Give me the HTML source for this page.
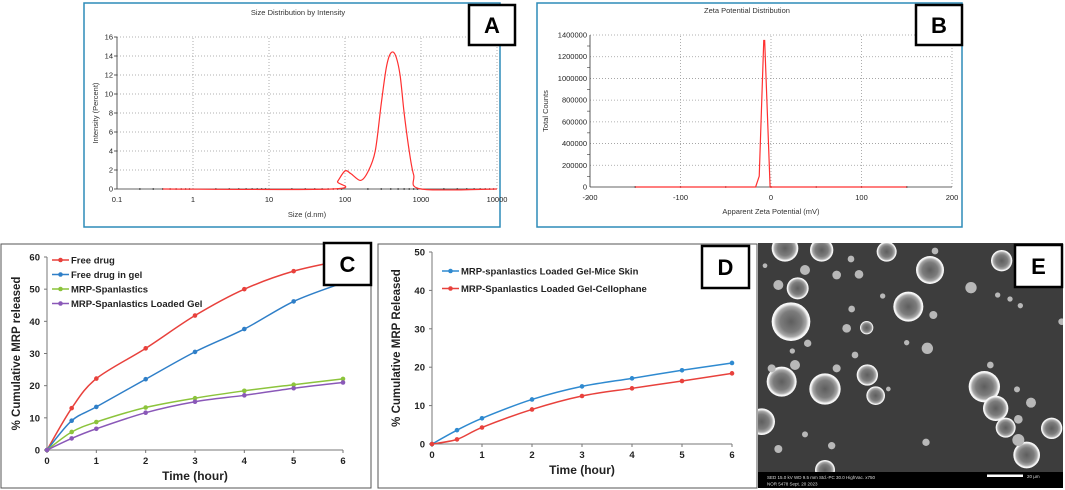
<!DOCTYPE html>
<html><head><meta charset="utf-8"><style>
html,body{margin:0;padding:0;background:#fff;}
svg{display:block;font-family:"Liberation Sans",Arial,sans-serif;}
</style></head><body>
<svg id="fig" width="1065" height="490" viewBox="0 0 1065 490" xmlns="http://www.w3.org/2000/svg">
<defs>
<radialGradient id="pg" cx="50%" cy="50%" r="50%">
<stop offset="0%" stop-color="#5e5e5e"/><stop offset="55%" stop-color="#7c7c7c"/><stop offset="78%" stop-color="#a8a8a8"/><stop offset="90%" stop-color="#f0f0f0"/><stop offset="100%" stop-color="#ffffff"/>
</radialGradient>
<clipPath id="clipE"><rect x="758" y="243" width="305" height="229"/></clipPath>
<clipPath id="clipC"><rect x="1" y="244" width="370" height="244"/></clipPath>
</defs>
<g id="pA"></g>
<g id="pB"></g>
<g id="pC"></g>
<g id="pD"></g>
<g id="pE"></g>
</svg>
<script>
// ---- Panel A data
const sizeX = [0.4, 68, 80, 100, 120, 160, 200, 250, 300, 350, 400, 460, 530, 600, 700, 800, 1000, 10000];
const sizeY = [0, 0, 0.8, 1.9, 1.6, 0.9, 1.8, 4, 9, 12.8, 14.3, 14.1, 12, 8, 4, 1.5, 0, 0];
const sizeTicksX = ["0.1", "1", "10", "100", "1000", "10000"];
const sizeTicksY = [0, 2, 4, 6, 8, 10, 12, 14, 16];
// ---- Panel B data
const zetaX = [-150, -17, -13, -8, -7, -1, 150];
const zetaY = [0, 0, 100000, 1350000, 1350000, 0, 0];
const zetaTicksX = [-200, -100, 0, 100, 200];
const zetaTicksY = [0, 200000, 400000, 600000, 800000, 1000000, 1200000, 1400000];
// ---- Panel C data
const timeC = [0, 0.5, 1, 2, 3, 4, 5, 6];
const freeDrug = [0, 13, 22.2, 31.6, 41.8, 50, 55.6, 59];
const freeDrugGel = [0, 9.1, 13.4, 22, 30.5, 37.6, 46.2, 52];
const spanlastics = [0, 5.6, 8.7, 13.2, 16.1, 18.4, 20.3, 22.1];
const spanGel = [0, 3.6, 6.6, 11.6, 15, 17, 19.2, 21];
const cTicksY = [0, 10, 20, 30, 40, 50, 60];
const tTicks = [0, 1, 2, 3, 4, 5, 6];
// ---- Panel D data
const timeD = [0, 0.5, 1, 2, 3, 4, 5, 6];
const miceSkin = [0, 3.6, 6.7, 11.6, 15, 17.1, 19.2, 21.1];
const cellophane = [0, 1.2, 4.3, 9, 12.5, 14.5, 16.4, 18.4];
const dTicksY = [0, 10, 20, 30, 40, 50];

const NS = "http://www.w3.org/2000/svg";
function mk(parent, tag, attrs, text) {
  const e = document.createElementNS(NS, tag);
  for (const k in attrs) e.setAttribute(k, attrs[k]);
  if (text !== undefined) e.textContent = text;
  parent.appendChild(e);
  return e;
}
function smooth(pts) {
  let d = "M" + pts[0][0] + "," + pts[0][1];
  for (let i = 0; i < pts.length - 1; i++) {
    const p0 = pts[i - 1] || pts[i], p1 = pts[i], p2 = pts[i + 1], p3 = pts[i + 2] || p2;
    const t = 0.16;
    d += " C" + (p1[0] + (p2[0] - p0[0]) * t) + "," + (p1[1] + (p2[1] - p0[1]) * t) + " " +
      (p2[0] - (p3[0] - p1[0]) * t) + "," + (p2[1] - (p3[1] - p1[1]) * t) + " " + p2[0] + "," + p2[1];
  }
  return d;
}
function labelBox(g, x, y, w, h, t) {
  const r = mk(g, "rect", {x: x, y: y, width: w, height: h, fill: "#fff", stroke: "#000", "stroke-width": 2.5});
  
  
  const tx = mk(g, "text", {x: x + w / 2, y: y + h / 2 + 8, "text-anchor": "middle", "font-size": 22, "font-weight": "bold"}, t);
  
  
}

// ================= Panel A
(function () {
  const g = document.getElementById("pA");
  const fr = mk(g, "rect", {x: 84, y: 3, width: 416, height: 224, fill: "#fff", stroke: "#2d8bb8", "stroke-width": 1.5});
  
  
  const x0 = 117, x1 = 497, y0 = 189, y1 = 37;
  const X = v => x0 + (Math.log10(v) + 1) / 5 * (x1 - x0);
  const Y = v => y0 - v / 16 * (y0 - y1);
  const t = mk(g, "text", {x: 298, y: 15, "text-anchor": "middle", "font-size": 7.5, fill: "#333"}, "Size Distribution by Intensity");
  
  
  sizeTicksY.forEach(v => {
    if (v > 0) mk(g, "line", {x1: x0, x2: x1, y1: Y(v), y2: Y(v), stroke: "#999", "stroke-width": 0.8, "stroke-dasharray": "1,2"});
    const l = mk(g, "text", {x: x0 - 4, y: Y(v) + 2.5, "text-anchor": "end", "font-size": 7.5, fill: "#222"}, v);
    
    
    mk(g, "line", {x1: x0 - 3, x2: x0, y1: Y(v), y2: Y(v), stroke: "#333", "stroke-width": 0.8});
  });
  sizeTicksX.forEach(s => {
    const v = parseFloat(s);
    if (v > 0.1) mk(g, "line", {x1: X(v), x2: X(v), y1: y0, y2: y1, stroke: "#999", "stroke-width": 0.8, "stroke-dasharray": "1,2"});
    const l = mk(g, "text", {x: X(v), y: y0 + 13, "text-anchor": "middle", "font-size": 7.5, fill: "#222"}, s);
    
    
  });
  for (let d = -1; d < 4; d++) for (let m = 2; m < 10; m++) {
    const v = m * Math.pow(10, d);
    mk(g, "circle", {cx: X(v), cy: y0, r: 0.9, fill: "#333"});
  }
  mk(g, "line", {x1: x0, x2: x0, y1: y0, y2: y1, stroke: "#333", "stroke-width": 0.8});
  mk(g, "line", {x1: x0, x2: x1, y1: y0, y2: y0, stroke: "#333", "stroke-width": 0.8});
  const yl = mk(g, "text", {x: 0, y: 0, transform: "translate(98," + ((y0 + y1) / 2) + ") rotate(-90)", "text-anchor": "middle", "font-size": 7.5, fill: "#333"}, "Intensity (Percent)");
  
  
  const xl = mk(g, "text", {x: (x0 + x1) / 2, y: 217, "text-anchor": "middle", "font-size": 7.5, fill: "#333"}, "Size (d.nm)");
  
  
  const pts = sizeX.map((v, i) => [X(v), Y(sizeY[i])]);
  const ln = mk(g, "path", {d: smooth(pts), fill: "none", stroke: "#ff3030", "stroke-width": 1.2});
  
  
  labelBox(g, 469, 5, 46, 40, "A");
})();

// ================= Panel B
(function () {
  const g = document.getElementById("pB");
  const fr = mk(g, "rect", {x: 537, y: 3, width: 425, height: 224, fill: "#fff", stroke: "#2d8bb8", "stroke-width": 1.5});
  
  
  const x0 = 590, x1 = 952, y0 = 187, y1 = 35;
  const X = v => x0 + (v + 200) / 400 * (x1 - x0);
  const Y = v => y0 - v / 1400000 * (y0 - y1);
  const t = mk(g, "text", {x: 747, y: 13, "text-anchor": "middle", "font-size": 7.5, fill: "#333"}, "Zeta Potential Distribution");
  
  
  zetaTicksY.forEach(v => {
    if (v > 0) mk(g, "line", {x1: x0, x2: x1, y1: Y(v), y2: Y(v), stroke: "#999", "stroke-width": 0.8, "stroke-dasharray": "1,2"});
    const l = mk(g, "text", {x: x0 - 3, y: Y(v) + 2.5, "text-anchor": "end", "font-size": 7.5, fill: "#222"}, v);
    
    
    mk(g, "line", {x1: x0 - 3, x2: x0, y1: Y(v) + 11, y2: Y(v) + 11, stroke: "#333", "stroke-width": 0.6});
  });
  zetaTicksX.forEach(v => {
    if (v > -200) mk(g, "line", {x1: X(v), x2: X(v), y1: y0, y2: y1, stroke: "#999", "stroke-width": 0.8, "stroke-dasharray": "1,2"});
    const l = mk(g, "text", {x: X(v), y: y0 + 13, "text-anchor": "middle", "font-size": 7.5, fill: "#222"}, v);
    
    
  });
  for (let v = -150; v <= 150; v += 50) mk(g, "circle", {cx: X(v), cy: y0, r: 0.9, fill: "#333"});
  mk(g, "line", {x1: x0, x2: x0, y1: y0, y2: y1, stroke: "#333", "stroke-width": 0.8});
  mk(g, "line", {x1: x0, x2: x1, y1: y0, y2: y0, stroke: "#333", "stroke-width": 0.8});
  const yl = mk(g, "text", {x: 0, y: 0, transform: "translate(548," + ((y0 + y1) / 2) + ") rotate(-90)", "text-anchor": "middle", "font-size": 7.5, fill: "#333"}, "Total Counts");
  
  
  const xl = mk(g, "text", {x: 771, y: 214, "text-anchor": "middle", "font-size": 7.5, fill: "#333"}, "Apparent Zeta Potential (mV)");
  
  
  const pts = zetaX.map((v, i) => X(v) + "," + Y(zetaY[i])).join(" ");
  const ln = mk(g, "polyline", {points: pts, fill: "none", stroke: "#ff3030", "stroke-width": 1.2});
  
  
  labelBox(g, 916, 5, 46, 40, "B");
})();

// ================= Line charts C / D
function lineChart(g, opt) {
  const fr = mk(g, "rect", {x: opt.bx, y: opt.by, width: opt.bw, height: opt.bh, fill: "#fff", stroke: "#555", "stroke-width": 1});
  
  
  const {x0, x1, y0, y1, ymax} = opt;
  const X = v => x0 + v / 6 * (x1 - x0);
  const Y = v => y0 - v / ymax * (y0 - y1);
  mk(g, "line", {x1: x0, x2: x0, y1: y0, y2: y1, stroke: "#777", "stroke-width": 1});
  mk(g, "line", {x1: x0, x2: x1, y1: y0, y2: y0, stroke: "#777", "stroke-width": 1});
  opt.yt.forEach(v => {
    mk(g, "line", {x1: x0 - 3, x2: x0, y1: Y(v), y2: Y(v), stroke: "#777"});
    const l = mk(g, "text", {x: x0 - 7, y: Y(v) + 3.5, "text-anchor": "end", "font-size": 9.5, "font-weight": "bold", fill: "#222"}, v);
    
    
  });
  tTicks.forEach(v => {
    mk(g, "line", {x1: X(v), x2: X(v), y1: y0, y2: y0 + 3, stroke: "#777"});
    const l = mk(g, "text", {x: X(v), y: y0 + 14, "text-anchor": "middle", "font-size": 9.5, "font-weight": "bold", fill: "#222"}, v);
    
    
  });
  const xl = mk(g, "text", {x: (x0 + x1) / 2, y: y0 + 30, "text-anchor": "middle", "font-size": 12, "font-weight": "bold", fill: "#222"}, "Time (hour)");
  
  
  const yl = mk(g, "text", {x: 0, y: 0, transform: "translate(" + opt.ylx + "," + ((y0 + y1) / 2) + ") rotate(-90)", "text-anchor": "middle", "font-size": 11.5, "font-weight": "bold", fill: "#222"}, opt.ytitle);
  
  
  const sg = mk(g, "g", opt.clip ? {"clip-path": opt.clip} : {});
  opt.series.forEach((s, si) => {
    const pts = s.x.map((v, i) => [X(v), Y(s.y[i])]);
    const p = mk(sg, "path", {d: smooth(pts), fill: "none", stroke: s.c, "stroke-width": 1.5});
    
    
    pts.forEach(pt => {
      const c = mk(sg, "circle", {cx: pt[0], cy: pt[1], r: 2.3, fill: s.c});
      
      
    });
    const ly = opt.ly + si * opt.lstep;
    const lg = mk(g, "g", {});
    
    
    mk(lg, "line", {x1: opt.lx, x2: opt.lx + 17, y1: ly, y2: ly, stroke: s.c, "stroke-width": 1.5});
    mk(lg, "circle", {cx: opt.lx + 8.5, cy: ly, r: 2.3, fill: s.c});
    mk(lg, "text", {x: opt.lx + 19, y: ly + 3.5, "font-size": 9.5, "font-weight": "bold", fill: "#222"}, s.label);
  });
}
lineChart(document.getElementById("pC"), {
  bx: 1, by: 244, bw: 370, bh: 244, x0: 47, x1: 343, y0: 450, y1: 257, ymax: 60, yt: cTicksY,
  ylx: 20, ytitle: "% Cumulative MRP released", lx: 52, ly: 260, lstep: 14.5, clip: "url(#clipC)",
  series: [
    {name: "free-drug", label: "Free drug", x: timeC, y: freeDrug, c: "#e8413c"},
    {name: "free-drug-in-gel", label: "Free drug in gel", x: timeC, y: freeDrugGel, c: "#2f7fc8"},
    {name: "mrp-spanlastics", label: "MRP-Spanlastics", x: timeC, y: spanlastics, c: "#8cc43c"},
    {name: "mrp-spanlastics-loaded-gel", label: "MRP-Spanlastics Loaded Gel", x: timeC, y: spanGel, c: "#8a58b8"}
  ]
});
labelBox(document.getElementById("pC"), 324, 243, 47, 42, "C");
lineChart(document.getElementById("pD"), {
  bx: 378, by: 244, bw: 379, bh: 244, x0: 432, x1: 732, y0: 444, y1: 252, ymax: 50, yt: dTicksY,
  ylx: 400, ytitle: "% Cumulative MRP Released", lx: 442, ly: 271, lstep: 17.5,
  series: [
    {name: "mice-skin", label: "MRP-spanlastics Loaded Gel-Mice Skin", x: timeD, y: miceSkin, c: "#2f8ad0"},
    {name: "cellophane", label: "MRP-Spanlastics Loaded Gel-Cellophane", x: timeD, y: cellophane, c: "#e8413c"}
  ]
});
labelBox(document.getElementById("pD"), 702, 246, 47, 42, "D");

// ================= Panel E (SEM image)
const semCircles = [[90,70,40],[200,75,35],[395,80,30],[525,135,42],[740,107,32],[128,190,33],[460,245,45],[108,290,58],[335,308,20],[275,310,13],[80,470,45],[210,492,47],[337,450,32],[362,512,28],[688,485,47],[722,550,38],[752,608,30],[815,690,40],[890,610,32],[20,590,40],[210,735,30],[70,180,15],[150,135,15],[245,150,13],[312,148,13],[648,188,17],[517,370,17],[535,270,12],[540,78,10],[158,355,11],[245,430,12],[120,420,15],[50,430,12],[828,533,15],[790,583,13],[790,645,18],[513,652,11],[230,662,11],[70,672,12],[150,628,9],[288,102,10],[290,252,10],[383,213,8],[300,390,10],[455,353,8],[706,420,10],[786,493,9],[728,210,8],[765,222,8],[796,242,8],[400,492,7],[112,378,8],[30,122,7],[920,290,10]];
(function () {
  const g = document.getElementById("pE");
  const bg = mk(g, "rect", {x: 758, y: 243, width: 305, height: 245, fill: "#3d3d3d"});
  
  
  const cg = mk(g, "g", {"clip-path": "url(#clipE)"});
  semCircles.forEach(c => {
    const e = mk(cg, "circle", {cx: 755 + c[0] / 3, cy: 225 + c[1] / 3, r: c[2] / 3, fill: c[2] < 20 ? "#b8b8b8" : "url(#pg)"});
    
    
  });
  const bar = mk(g, "rect", {x: 758, y: 472, width: 305, height: 16, fill: "#000"});
  
  
  const i1 = mk(g, "text", {x: 767, y: 479, "font-size": 4.5, fill: "#ddd"}, "SED   15.0 kV   WD 9.5 mm    Std.-PC 30.0    HighVac.  x750");
  
  
  mk(g, "text", {x: 767, y: 485.5, "font-size": 4.5, fill: "#ddd"}, "NOR    5478    Sept. 20 2023");
  const sb = mk(g, "rect", {x: 987, y: 474.5, width: 36, height: 2.5, fill: "#fff"});
  
  
  mk(g, "text", {x: 1027, y: 478, "font-size": 4.5, fill: "#ddd"}, "20 µm");
  labelBox(g, 1015, 245, 47, 42, "E");
})();
</script>
</body></html>
